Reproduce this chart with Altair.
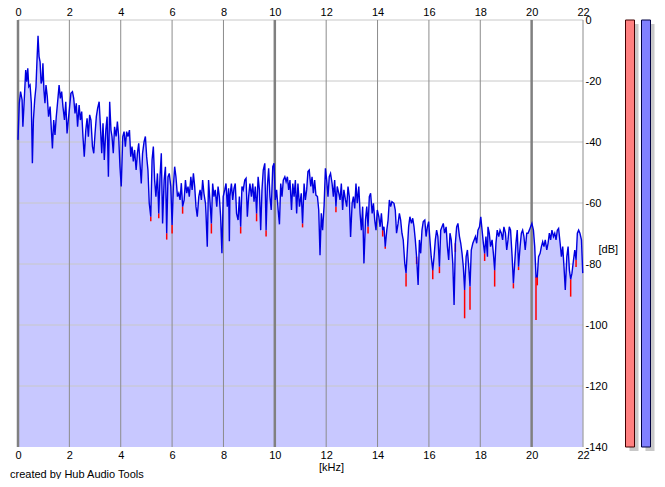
import altair as alt
import pandas as pd

# ---- spectrum (right channel, blue) : frequency [kHz] and level [dB]
freq_khz = [
    0.00, 0.05, 0.10, 0.16, 0.19, 0.25, 0.30, 0.34, 0.38, 0.42, 0.47, 0.52, 0.56, 0.60, 0.65, 0.70,
    0.74, 0.78, 0.82, 0.86, 0.90, 0.94, 0.97, 1.01, 1.05, 1.09, 1.14, 1.19, 1.25, 1.30, 1.34, 1.39,
    1.44, 1.49, 1.55, 1.60, 1.65, 1.70, 1.75, 1.81, 1.86, 1.91, 1.96, 2.01, 2.06, 2.12, 2.17, 2.22,
    2.27, 2.32, 2.38, 2.43, 2.48, 2.53, 2.58, 2.64, 2.69, 2.74, 2.79, 2.84, 2.90, 2.95, 3.00, 3.05,
    3.10, 3.16, 3.21, 3.26, 3.31, 3.36, 3.42, 3.47, 3.52, 3.57, 3.62,
    3.66, 3.71, 3.76, 3.82, 3.87, 3.92, 3.97, 4.02, 4.08, 4.13, 4.18, 4.23, 4.28, 4.34, 4.39, 4.44,
    4.49, 4.54, 4.60, 4.65, 4.70, 4.75, 4.80, 4.85, 4.91, 4.96, 5.01, 5.06, 5.11, 5.17, 5.22, 5.27,
    5.32, 5.37, 5.43, 5.48, 5.53, 5.58, 5.63, 5.69, 5.74, 5.79, 5.84, 5.89, 5.95, 6.00, 6.05, 6.10,
    6.15, 6.21, 6.26, 6.31, 6.36, 6.41, 6.47, 6.52, 6.57, 6.62, 6.67, 6.73, 6.78, 6.83, 6.88, 6.93,
    6.98, 7.04, 7.09, 7.14, 7.19, 7.24, 7.30,
    7.32, 7.37, 7.42, 7.48, 7.53, 7.58, 7.63, 7.68, 7.74, 7.79, 7.84, 7.89, 7.94, 7.99, 8.05, 8.10,
    8.15, 8.20, 8.23, 8.25, 8.31, 8.36, 8.41, 8.46, 8.51, 8.57, 8.62, 8.67, 8.72, 8.77, 8.83, 8.88,
    8.93, 8.98, 9.03, 9.09, 9.14, 9.19, 9.24, 9.29, 9.35, 9.40, 9.45, 9.50, 9.55, 9.61, 9.66, 9.71,
    9.76, 9.81, 9.86, 9.92, 9.97, 10.02, 10.07, 10.13, 10.18, 10.23, 10.28, 10.33, 10.39, 10.44,
    10.49, 10.54, 10.59, 10.65, 10.70, 10.75, 10.80, 10.85, 10.90, 10.96,
    11.03, 11.08, 11.14, 11.19, 11.24, 11.29, 11.34, 11.40, 11.45, 11.50, 11.55, 11.60, 11.66, 11.71,
    11.76, 11.81, 11.86, 11.92, 11.97, 12.02, 12.07, 12.12, 12.17, 12.23, 12.28, 12.33, 12.38, 12.43,
    12.49, 12.54, 12.59, 12.64, 12.69, 12.75, 12.80, 12.85, 12.90, 12.95, 13.01, 13.06, 13.11, 13.16,
    13.21, 13.27, 13.32, 13.37, 13.42, 13.47, 13.53, 13.58, 13.63, 13.68, 13.73, 13.79, 13.84, 13.89,
    13.94, 13.99, 14.05, 14.10, 14.15, 14.20, 14.25, 14.30, 14.36, 14.41, 14.46, 14.51, 14.56,
    14.64, 14.69, 14.74, 14.80, 14.85, 14.90, 14.95, 15.00, 15.06, 15.11, 15.16, 15.21, 15.26, 15.32,
    15.37, 15.42, 15.47, 15.52, 15.58, 15.63, 15.68, 15.73, 15.78, 15.84, 15.89, 15.94, 15.99, 16.04,
    16.09, 16.15, 16.20, 16.25, 16.30, 16.35, 16.41, 16.46, 16.51, 16.56, 16.61, 16.67, 16.72, 16.77,
    16.82, 16.87, 16.93, 16.98, 17.03, 17.08, 17.13, 17.19, 17.24, 17.29, 17.34, 17.39, 17.45, 17.50,
    17.55, 17.60, 17.65, 17.71, 17.76, 17.81, 17.86, 17.91, 17.97, 18.02, 18.07, 18.12, 18.17, 18.22,
    18.28,
    18.30, 18.35, 18.40, 18.46, 18.51, 18.56, 18.61, 18.66, 18.72, 18.77, 18.82, 18.87, 18.92, 18.98,
    19.03, 19.08, 19.13, 19.18, 19.24, 19.29, 19.34, 19.39, 19.44, 19.49, 19.55, 19.60, 19.65, 19.70,
    19.75, 19.81, 19.86, 19.91, 19.96, 20.01, 20.07, 20.12, 20.17, 20.22, 20.27, 20.33, 20.38, 20.43,
    20.48, 20.53, 20.59, 20.64, 20.69, 20.74, 20.79, 20.85, 20.90, 20.95, 21.00, 21.05, 21.11, 21.16,
    21.21, 21.26, 21.31, 21.37, 21.42, 21.47, 21.52, 21.57, 21.63, 21.68, 21.73, 21.78, 21.83, 21.88,
    21.94, 21.99,
]
level_db = [
    -39.3, -27.3, -23.5, -26.2, -35.0, -25.1, -16.4, -20.2, -15.8, -21.9, -21.3, -27.3, -47.0, -32.8, -26.2, -21.9,
    -13.1, -5.2, -12.0, -13.7, -20.8, -19.7, -14.2, -23.0, -27.3, -21.3, -25.1, -31.7, -28.4, -36.1, -42.1, -32.8,
    -37.7, -31.7, -26.2, -21.3, -25.7, -23.5, -28.4, -32.8, -26.8, -37.2, -32.8, -28.4, -24.0, -23.5, -25.7, -30.6,
    -27.3, -35.0, -27.9, -32.8, -30.0, -38.3, -44.8, -36.1, -32.2, -38.3, -31.1, -32.8, -41.5, -43.7, -37.2, -31.7,
    -29.0, -26.8, -35.0, -43.7, -33.9, -45.9, -36.1, -31.7, -51.4, -26.8, -36.1,
    -38.2, -43.7, -35.0, -38.2, -33.3, -38.2, -48.1, -54.6, -38.2, -36.6, -41.5, -36.6, -38.2, -36.1, -44.8, -41.5,
    -46.4, -42.6, -49.2, -43.7, -40.4, -47.0, -53.6, -43.7, -39.9, -38.2, -44.8, -49.2, -60.1, -64.5, -45.9, -41.5,
    -52.5, -57.9, -50.3, -63.4, -51.4, -43.7, -66.7, -52.5, -48.1, -69.9, -51.4, -50.3, -54.6, -67.2, -54.6, -48.1,
    -51.4, -57.9, -56.8, -59.0, -53.5, -61.2, -59.0, -52.5, -56.8, -54.6, -57.9, -51.4, -55.7, -50.3, -54.6, -61.2,
    -64.5, -57.9, -55.7, -59.0, -52.5, -56.8, -60.1,
    -63.4, -74.3, -52.5, -60.1, -66.7, -53.6, -57.9, -55.7, -61.2, -54.6, -57.9, -64.5, -76.5, -57.9, -55.7, -53.6,
    -61.2, -55.2, -72.5, -57.9, -53.6, -59.0, -55.2, -53.6, -63.4, -65.6, -57.9, -67.8, -54.6, -55.7, -52.5, -51.9,
    -64.5, -57.9, -53.6, -57.9, -53.6, -59.6, -54.6, -63.4, -51.4, -55.7, -68.9, -55.7, -49.2, -47.0, -68.9, -54.6,
    -48.6, -57.9, -62.3, -48.1, -47.0, -59.0, -55.7, -62.3, -67.0, -53.6, -57.9, -52.5, -51.4, -53.0,
    -51.4, -55.7, -52.5, -62.3, -53.6, -57.9, -52.5, -63.4, -53.6, -61.2,
    -56.8, -66.7, -53.6, -59.0, -55.7, -49.7, -49.2, -54.6, -51.4, -56.8, -52.5, -57.4, -57.9, -62.3,
    -77.1, -63.4, -68.9, -60.7, -48.6, -52.5, -57.9, -51.4, -50.3, -53.6, -57.9, -52.5, -61.2, -54.6,
    -56.8, -59.0, -53.6, -62.3, -55.7, -59.0, -61.2, -54.6, -57.9, -71.1, -60.1, -57.9, -61.8, -53.6,
    -60.1, -54.6, -63.4, -68.9, -61.2, -79.8, -65.6, -61.2, -67.8, -57.9, -56.8, -63.4, -60.1, -65.6,
    -68.9, -62.3, -64.5, -67.8, -63.4, -68.9, -67.8, -74.3, -68.9, -65.6, -59.0, -61.2, -59.6,
    -60.1, -62.3, -69.9, -66.7, -63.4, -65.6, -69.9, -72.1, -79.8, -83.0, -75.4, -67.8, -64.5, -66.7,
    -65.0, -67.8, -72.1, -77.6, -86.9, -72.1, -76.5, -68.9, -66.1, -65.6, -71.0, -67.8, -66.1, -72.1,
    -77.6, -82.0, -77.6, -72.1, -68.9, -71.0, -80.9, -68.9, -67.8, -66.7, -69.9, -67.8, -74.3, -78.7,
    -69.9, -72.1, -79.8, -93.4, -73.2, -67.8, -66.7, -71.0, -73.2, -76.5, -80.9, -88.5, -77.6, -75.4,
    -80.9, -87.4, -75.4, -73.2, -72.1, -71.0, -73.2, -68.9, -67.8, -64.5, -68.9, -73.2, -76.5, -71.0,
    -77.6,
    -67.8, -69.9, -74.3, -72.1, -76.5, -82.0, -73.2, -68.9, -71.0, -68.9, -69.9, -72.1, -67.8, -69.9,
    -75.4, -72.1, -67.8, -68.9, -77.6, -86.3, -79.8, -73.2, -68.9, -80.9, -74.3, -69.9, -68.9, -71.0,
    -75.4, -69.9, -69.9, -68.9, -67.8, -66.7, -68.9, -74.3, -84.2, -84.2, -77.6, -76.5, -74.3, -72.7,
    -74.3, -72.1, -75.4, -73.2, -69.9, -72.1, -68.9, -71.0, -69.9, -72.1, -68.9, -68.3, -73.2, -77.6,
    -74.3, -80.9, -88.5, -77.6, -74.3, -82.0, -85.0, -83.0, -78.7, -75.4, -78.7, -69.9, -68.9, -69.9,
    -72.1, -83.0,
]

# ---- left channel (red) where it dips below the right channel
red_dip_khz = [5.17, 5.48, 5.79, 6.00, 6.41, 7.53, 8.67, 9.29, 9.66, 11.08, 12.38, 13.63, 14.20,
               14.30, 15.11, 15.52, 16.15, 16.41, 17.03, 17.39, 17.60, 18.17, 18.56, 19.29, 19.49,
               20.17, 20.22, 21.52, 21.73]
red_dip_db = [-66.0, -65.0, -72.0, -70.0, -63.5, -70.0, -70.0, -66.0, -71.0, -68.0, -63.0, -70.0, -71.0,
              -75.0, -87.4, -80.0, -85.0, -83.0, -76.0, -97.8, -95.0, -79.0, -87.4, -88.0, -82.0,
              -98.4, -87.0, -90.7, -81.0]

x_ticks = [0, 2, 4, 6, 8, 10, 12, 14, 16, 18, 20, 22]
y_ticks = [0, -20, -40, -60, -80, -100, -120, -140]
grid_minor_khz = [2, 4, 6, 8, 12, 14, 16, 18, 22]
grid_major_khz = [0, 10, 20]
grid_db = [0, -20, -40, -60, -80, -100, -120]

meter_top = [0]
meter_bottom = [-140]

FONT = "Liberation Sans"

spec = pd.DataFrame({"f": freq_khz, "db": level_db})
blue_at = dict(zip(freq_khz, level_db))
dips = pd.DataFrame({"f": red_dip_khz,
                     "top": [blue_at[f] for f in red_dip_khz],
                     "db": red_dip_db})
meters = pd.DataFrame({"top": meter_top, "bottom": meter_bottom})

xs = alt.Scale(domain=[0, 22], nice=False, zero=False)
ys = alt.Scale(domain=[-140, 0], nice=False, zero=False)

common_axis = dict(grid=False, ticks=False, domain=False, labelFont=FONT, labelFontSize=11,
                   labelColor="black", labelFlush=False, labelOverlap=False, labelBound=False,
                   titleFont=FONT, titleFontSize=11, titleFontWeight="normal", titleColor="black")

y_axis = alt.Axis(orient="right", values=y_ticks, labelPadding=2,
                  labelExpr="'' + datum.value", labelAlign="left",
                  title="[dB]", titleAngle=0, titleX=15, titleY=229,
                  titleAlign="left", titleBaseline="middle", **common_axis)

area = alt.Chart(spec).mark_area(color="#c8c8ff").encode(
    x=alt.X("f:Q", scale=xs, axis=alt.Axis(orient="bottom", values=x_ticks, labelPadding=2,
                                           title="[kHz]", titleX=313, titleY=20,
                                           titleAlign="center", titleBaseline="middle",
                                           **common_axis)),
    y=alt.Y("db:Q", scale=ys, axis=y_axis),
    y2=alt.datum(-140),
)

hgrid = alt.Chart(pd.DataFrame({"db": grid_db})).mark_rule(color="#c8c8c8", strokeWidth=1).encode(
    y=alt.Y("db:Q", scale=ys, axis=y_axis))
vgrid = alt.Chart(pd.DataFrame({"f": grid_minor_khz})).mark_rule(color="#8c8c8c", strokeWidth=1).encode(
    x=alt.X("f:Q", scale=xs, axis=None))
vgrid_major = alt.Chart(pd.DataFrame({"f": grid_major_khz})).mark_rule(color="#808080", strokeWidth=2.5).encode(
    x=alt.X("f:Q", scale=xs, axis=None))

red = alt.Chart(dips).mark_rule(color="#ff0000", strokeWidth=1.5).encode(
    x=alt.X("f:Q", scale=xs, axis=None),
    y=alt.Y("top:Q", scale=ys, axis=y_axis),
    y2="db:Q",
)

blue = alt.Chart(spec).mark_line(color="#0000e0", strokeWidth=1.4).encode(
    x=alt.X("f:Q", scale=xs, axis=alt.Axis(orient="top", values=x_ticks, labelPadding=3, title=None,
                                           **common_axis)),
    y=alt.Y("db:Q", scale=ys, axis=y_axis),
)


def shadow(x0, x1):
    return alt.Chart(meters).mark_rect(color="#c8c8c8", xOffset=4, x2Offset=4, yOffset=4, y2Offset=4).encode(
        x=alt.value(x0), x2=alt.value(x1),
        y=alt.Y("top:Q", scale=ys, axis=y_axis), y2="bottom:Q")


def bar(x0, x1, fill, stroke):
    return alt.Chart(meters).mark_rect(color=fill, stroke=stroke, strokeWidth=1).encode(
        x=alt.value(x0), x2=alt.value(x1),
        y=alt.Y("top:Q", scale=ys, axis=y_axis), y2="bottom:Q")


credit = alt.Chart(pd.DataFrame({"t": ["created by Hub Audio Tools"]})).mark_text(
    align="left", baseline="middle", font=FONT, fontSize=11, color="black").encode(
    x=alt.value(-8), y=alt.value(455), text="t:N")

chart = alt.layer(
    area, hgrid, vgrid, vgrid_major, red, blue,
    shadow(607.5, 616.5), bar(607.5, 616.5, "#ff8080", "#400000"),
    shadow(623.5, 632.5), bar(623.5, 632.5, "#8080ff", "#000040"),
    credit,
).properties(
    width=565, height=427,
    autosize=alt.AutoSizeParams(type="none"),
    padding={"left": 10, "top": 12, "right": 74, "bottom": 32},
    background="white",
).configure_view(stroke=None)

chart.save("out.html", embed_options={"renderer": "svg", "actions": False})
